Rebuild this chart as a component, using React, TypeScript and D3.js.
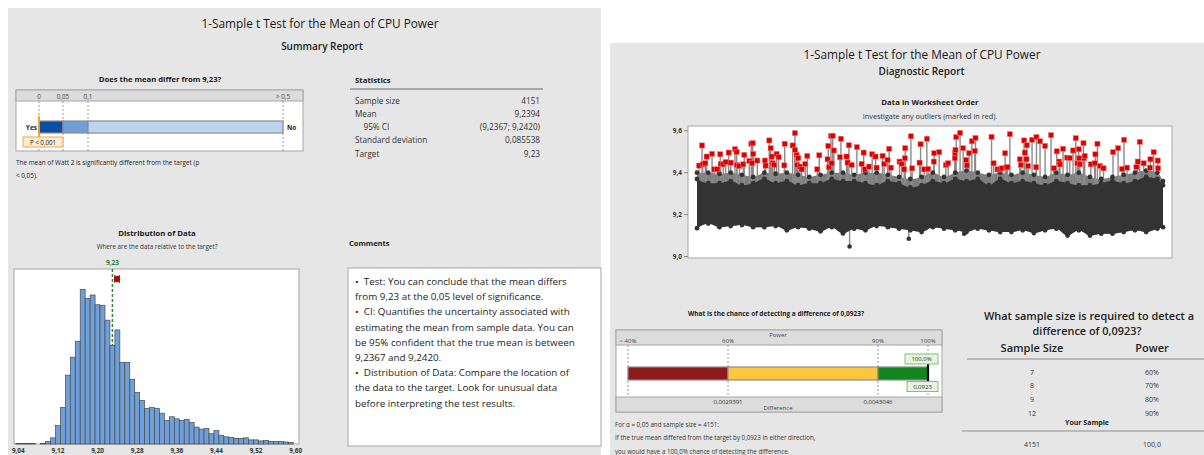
import { useEffect, useRef } from 'react';
import * as d3 from 'd3';

const FONT = "'Segoe UI', 'Open Sans', sans-serif";
const BG = '#e6e6e6';

// summary report
const reportTitle = '1-Sample t Test for the Mean of CPU Power';
const pTicks = [0, 0.05, 0.1, 0.5];
const pTickLabels = ['0', '0,05', '0,1', '> 0,5'];
const pBands = [[0, 0.05, '#0b4ea2'], [0.05, 0.1, '#6f9fd6'], [0.1, 0.5, '#bdd3ee']] as const;
const statLabels = ['Sample size', 'Mean', '95% CI', 'Standard deviation', 'Target'];
const statValues = ['4151', '9,2394', '(9,2367; 9,2420)', '0,085538', '9,23'];
const commentLines = [
  '•  Test: You can conclude that the mean differs',
  'from 9,23 at the 0,05 level of significance.',
  '•  CI: Quantifies the uncertainty associated with',
  'estimating the mean from sample data. You can',
  'be 95% confident that the true mean is between',
  '9,2367 and 9,2420.',
  '•  Distribution of Data: Compare the location of',
  'the data to the target. Look for unusual data',
  'before interpreting the test results.',
];

// histogram (bin midpoints, width 0.01)
const binMids = [
  9.04, 9.05, 9.06, 9.07, 9.08, 9.09, 9.10, 9.11, 9.12, 9.13, 9.14, 9.15, 9.16, 9.17,
  9.18, 9.19, 9.20, 9.21, 9.22, 9.23, 9.24, 9.25, 9.26, 9.27, 9.28, 9.29, 9.30, 9.31,
  9.32, 9.33, 9.34, 9.35, 9.36, 9.37, 9.38, 9.39, 9.40, 9.41, 9.42, 9.43, 9.44, 9.45,
  9.46, 9.47, 9.48, 9.49, 9.50, 9.51, 9.52, 9.53, 9.54, 9.55, 9.56, 9.57, 9.58, 9.59,
];
const binCounts = [
  1, 1, 1, 1, 0, 1, 5, 12, 36, 71, 134, 169, 200, 301,
  283, 290, 271, 270, 241, 192, 222, 159, 159, 126, 100, 85, 69, 71,
  69, 60, 46, 53, 49, 46, 48, 42, 33, 29, 30, 20, 26, 17,
  14, 13, 11, 11, 12, 8, 8, 6, 7, 5, 5, 5, 4, 3,
];
const histTicks = [9.04, 9.12, 9.2, 9.28, 9.36, 9.44, 9.52, 9.6];
const histTickLabels = ['9,04', '9,12', '9,20', '9,28', '9,36', '9,44', '9,52', '9,60'];
const target = 9.23;
const meanValue = 9.2394;
const ciLow = 9.2367;
const ciHigh = 9.242;

// worksheet order plot: envelope of the dense band, read every 100 observations
const bandObs = [
  1, 101, 201, 301, 401, 501, 601, 701, 801, 901, 1001, 1101, 1201, 1301, 1401,
  1501, 1601, 1701, 1801, 1901, 2001, 2101, 2201, 2301, 2401, 2501, 2601, 2701,
  2801, 2901, 3001, 3101, 3201, 3301, 3401, 3501, 3601, 3701, 3801, 3901, 4001, 4101, 4151,
];
const bandLow = [
  9.135, 9.157, 9.14, 9.145, 9.15, 9.14, 9.14, 9.145, 9.125, 9.14, 9.133, 9.12, 9.14, 9.11, 9.133,
  9.125, 9.145, 9.14, 9.133, 9.125, 9.117, 9.14, 9.133, 9.125, 9.117, 9.133, 9.125, 9.117,
  9.117, 9.125, 9.112, 9.125, 9.133, 9.1, 9.125, 9.1, 9.109, 9.109, 9.117, 9.125, 9.117, 9.133, 9.14,
];
const bandHigh = [
  9.4, 9.4, 9.395, 9.4, 9.39, 9.38, 9.4, 9.395, 9.4, 9.39, 9.38, 9.39, 9.4, 9.4, 9.39,
  9.4, 9.4, 9.39, 9.38, 9.37, 9.38, 9.4, 9.38, 9.4, 9.41, 9.4, 9.39, 9.4,
  9.39, 9.4, 9.39, 9.38, 9.4, 9.39, 9.4, 9.38, 9.37, 9.38, 9.39, 9.4, 9.41, 9.4, 9.36,
];
const bandCore = [
  9.37, 9.35, 9.35, 9.36, 9.34, 9.35, 9.37, 9.35, 9.36, 9.34, 9.35, 9.35, 9.37, 9.36, 9.36,
  9.35, 9.34, 9.36, 9.35, 9.33, 9.34, 9.36, 9.35, 9.37, 9.36, 9.37, 9.34, 9.37,
  9.35, 9.36, 9.35, 9.34, 9.36, 9.35, 9.34, 9.34, 9.35, 9.36, 9.35, 9.36, 9.38, 9.37, 9.34,
];
const lowPoints: [number, number][] = [[1360, 9.048], [1887, 9.085], [2380, 9.109]];
// outliers: [observation, value]
const outliers: [number, number][] = [
  [19, 9.434], [46, 9.53], [52, 9.44], [75, 9.445], [87, 9.477], [135, 9.49], [155, 9.416], [182, 9.416],
  [208, 9.488], [212, 9.442], [235, 9.44], [256, 9.451], [283, 9.496], [301, 9.448], [339, 9.512], [354, 9.499],
  [356, 9.437], [378, 9.432], [413, 9.44], [422, 9.485], [467, 9.456], [484, 9.538], [491, 9.445], [497, 9.541],
  [502, 9.49], [538, 9.458], [606, 9.458], [612, 9.434], [645, 9.554], [657, 9.517], [666, 9.477], [675, 9.445],
  [689, 9.437], [710, 9.49], [728, 9.474], [778, 9.435], [782, 9.538], [853, 9.53], [873, 9.589], [875, 9.509],
  [888, 9.485], [894, 9.437], [903, 9.469], [918, 9.429], [933, 9.416], [965, 9.442], [983, 9.48], [1072, 9.416],
  [1090, 9.483], [1164, 9.464], [1170, 9.528], [1176, 9.426], [1194, 9.576], [1200, 9.445], [1209, 9.576], [1220, 9.506],
  [1274, 9.474], [1283, 9.562], [1333, 9.477], [1342, 9.448], [1354, 9.531], [1378, 9.437], [1425, 9.522], [1467, 9.442],
  [1485, 9.496], [1496, 9.416], [1532, 9.429], [1561, 9.488], [1591, 9.477], [1600, 9.424], [1654, 9.48], [1668, 9.442],
  [1698, 9.461], [1712, 9.514], [1728, 9.424], [1805, 9.453], [1823, 9.442], [1846, 9.416], [1852, 9.469], [1855, 9.517],
  [1906, 9.574], [1917, 9.421], [1983, 9.448], [1992, 9.536], [2024, 9.416], [2048, 9.562], [2060, 9.418], [2110, 9.453],
  [2113, 9.493], [2158, 9.498], [2217, 9.437], [2238, 9.445], [2297, 9.469], [2299, 9.493], [2303, 9.509], [2309, 9.57],
  [2344, 9.59], [2371, 9.517], [2398, 9.461], [2404, 9.435], [2424, 9.493], [2449, 9.55], [2475, 9.504], [2481, 9.566],
  [2624, 9.571], [2642, 9.445], [2677, 9.416], [2698, 9.416], [2718, 9.421], [2745, 9.493], [2757, 9.426], [2766, 9.426],
  [2787, 9.584], [2876, 9.464], [2885, 9.437], [2914, 9.554], [2920, 9.496], [2935, 9.464], [2938, 9.531], [2950, 9.432],
  [2985, 9.557], [3021, 9.426], [3024, 9.57], [3056, 9.55], [3101, 9.528], [3154, 9.579], [3178, 9.421], [3205, 9.502],
  [3226, 9.453], [3234, 9.44], [3261, 9.514], [3297, 9.472], [3321, 9.47], [3350, 9.506], [3374, 9.565], [3389, 9.445],
  [3401, 9.512], [3403, 9.469], [3410, 9.44], [3443, 9.541], [3446, 9.469], [3454, 9.48], [3508, 9.44], [3543, 9.445],
  [3549, 9.488], [3567, 9.538], [3590, 9.432], [3621, 9.421], [3706, 9.498], [3751, 9.517], [3786, 9.418], [3804, 9.557],
  [3831, 9.424], [3914, 9.427], [3926, 9.453], [3944, 9.547], [3979, 9.445], [4035, 9.424], [4039, 9.464], [4068, 9.498],
  [4104, 9.458], [4107, 9.421],
];
const seriesTicks = [9.0, 9.2, 9.4, 9.6];
const seriesTickLabels = ['9,0', '9,2', '9,4', '9,6'];

// power
const powerTicks = [40, 60, 90, 100];
const powerTickLabels = ['< 40%', '60%', '90%', '100%'];
const powerBands = [[40, 60, '#8e1b1b'], [60, 90, '#fec63f'], [90, 100, '#13861f']] as const;
const powerValue = 100;
const diffAt = [60, 90];
const diffLabels = ['0,0029391', '0,0043046'];
const powerNotes = [
  'For α = 0,05 and sample size = 4151:',
  'If the true mean differed from the target by 0,0923 in either direction,',
  'you would have a 100,0% chance of detecting the difference.',
];
const sizeRows = ['7', '8', '9', '12'];
const powerRows = ['60%', '70%', '80%', '90%'];

const App = () => {
  const ref = useRef<SVGSVGElement>(null);

  useEffect(() => {
    const svg = d3.select(ref.current);
    svg.selectAll('*').remove();

    const text = (g: any, x: number, y: number, s: string, size: number, o: any = {}) =>
      g.append('text')
        .attr('x', x).attr('y', y)
        .attr('font-size', size)
        .attr('font-weight', o.weight || 400)
        .attr('text-anchor', o.anchor || 'start')
        .attr('dominant-baseline', 'central')
        .attr('fill', o.fill || '#222')
        .style('white-space', 'pre')
        .text(s);

    // panel backgrounds
    svg.append('rect').attr('x', 8).attr('y', 8).attr('width', 593).attr('height', 447).attr('fill', BG);
    svg.append('rect').attr('x', 610).attr('y', 43).attr('width', 594).attr('height', 412).attr('fill', BG);

    // ---------- Summary report ----------
    text(svg, 320, 23, reportTitle, 11.8, { anchor: 'middle', fill: '#1a1a1a' });
    text(svg, 322, 45.5, 'Summary Report', 10, { anchor: 'middle', weight: 600 });

    text(svg, 160, 79, 'Does the mean differ from 9,23?', 7.7, { anchor: 'middle', weight: 700 });
    const pScale = d3.scaleLinear().domain(pTicks).range([39, 63, 88, 283]);
    svg.append('rect').attr('x', 16).attr('y', 90).attr('width', 287).attr('height', 61)
      .attr('fill', '#fff').attr('stroke', '#a6a6a6');
    svg.append('rect').attr('x', 16).attr('y', 90).attr('width', 287).attr('height', 11)
      .attr('fill', '#dcdcdc').attr('stroke', '#a6a6a6');
    pTicks.forEach((t, i) => {
      text(svg, pScale(t), 96, pTickLabels[i], 6.3, { anchor: 'middle', fill: '#444' });
      svg.append('line').attr('x1', pScale(t)).attr('x2', pScale(t)).attr('y1', 101).attr('y2', 151)
        .attr('stroke', '#9a9a9a').attr('stroke-dasharray', '2,2');
    });
    pBands.forEach(([a, b, c]) => {
      svg.append('rect').attr('x', pScale(a)).attr('y', 121).attr('width', pScale(b) - pScale(a)).attr('height', 12)
        .attr('fill', c).attr('stroke', '#8c8c8c').attr('stroke-width', 1.2);
    });
    svg.append('line').attr('x1', pScale(0)).attr('x2', pScale(0)).attr('y1', 116).attr('y2', 143)
      .attr('stroke', '#f0a030').attr('stroke-width', 1.8);
    svg.append('rect').attr('x', 23).attr('y', 137).attr('width', 40).attr('height', 10)
      .attr('fill', '#fdebd2').attr('stroke', '#f0a848');
    text(svg, 43, 142, 'P < 0,001', 6.2, { anchor: 'middle' });
    text(svg, 37, 127, 'Yes', 6.5, { anchor: 'end', weight: 700 });
    text(svg, 287, 127, 'No', 6.5, { weight: 700 });
    text(svg, 16, 162, 'The mean of Watt 2 is significantly different from the target (p', 6.4);
    text(svg, 16, 175, '< 0,05).', 6.4);

    // statistics table
    text(svg, 355, 80, 'Statistics', 7.8, { weight: 700 });
    svg.append('line').attr('x1', 350).attr('x2', 543).attr('y1', 89).attr('y2', 89)
      .attr('stroke', '#a8a8a8').attr('stroke-width', 2);
    statLabels.forEach((s, i) => {
      const y = 100 + i * 13.3;
      text(svg, s === '95% CI' ? 363.5 : 355, y, s, 8.2, { fill: '#333' });
      text(svg, 540, y, statValues[i], 8.2, { anchor: 'end', fill: '#333' });
    });

    // comments
    text(svg, 349, 243, 'Comments', 7.5, { weight: 700 });
    svg.append('rect').attr('x', 348).attr('y', 268).attr('width', 253).attr('height', 178)
      .attr('fill', '#fff').attr('stroke', '#a6a6a6');
    commentLines.forEach((s, i) => text(svg, 355, 281.5 + i * 15.2, s, 9.8, { fill: '#222' }));

    // distribution of data
    text(svg, 157, 233, 'Distribution of Data', 7.8, { anchor: 'middle', weight: 700 });
    text(svg, 157, 246.5, 'Where are the data relative to the target?', 6.3, { anchor: 'middle', fill: '#333' });
    const xh = d3.scaleLinear().domain([9.04, 9.6]).range([18.3, 295.7]);
    const yh = d3.scaleLinear().domain([0, 340]).range([444, 269.3]);
    svg.append('rect').attr('x', 14).attr('y', 269).attr('width', 285).attr('height', 175)
      .attr('fill', '#fff').attr('stroke', '#a6a6a6');
    svg.append('line').attr('x1', xh(target)).attr('x2', xh(target)).attr('y1', 269).attr('y2', 444)
      .attr('stroke', '#2e8540').attr('stroke-width', 1.5).attr('stroke-dasharray', '3,2');
    svg.append('g').selectAll('rect')
      .data(binMids.map((m, i) => ({ m, c: binCounts[i] })).filter(d => d.c > 0))
      .enter().append('rect')
      .attr('x', d => xh(d.m - 0.005))
      .attr('width', d => xh(d.m + 0.005) - xh(d.m - 0.005))
      .attr('y', d => yh(d.c))
      .attr('height', d => yh(0) - yh(d.c))
      .attr('fill', '#6f9fd8')
      .attr('stroke', '#4a4a4a')
      .attr('stroke-width', 0.7);
    text(svg, xh(target), 262.7, '9,23', 6.5, { anchor: 'middle', weight: 700, fill: '#2e7d32' });
    const my = 279;
    svg.append('line').attr('x1', xh(ciLow) - 1).attr('x2', xh(ciHigh) + 1).attr('y1', my).attr('y2', my)
      .attr('stroke', '#9b1111').attr('stroke-width', 1);
    [ciLow - 0.002, ciHigh + 0.002].forEach(v => {
      svg.append('line').attr('x1', xh(v)).attr('x2', xh(v)).attr('y1', my - 4).attr('y2', my + 4)
        .attr('stroke', '#9b1111').attr('stroke-width', 1);
    });
    svg.append('circle').attr('cx', xh(meanValue)).attr('cy', my).attr('r', 3.2).attr('fill', '#9b1111');
    histTicks.forEach((t, i) => text(svg, xh(t), 450.5, histTickLabels[i], 6.4, { anchor: 'middle', weight: 700, fill: '#333' }));

    // ---------- Diagnostic report ----------
    text(svg, 922, 54, reportTitle, 11.8, { anchor: 'middle', fill: '#1a1a1a' });
    text(svg, 921.5, 71, 'Diagnostic Report', 10, { anchor: 'middle', weight: 600 });
    text(svg, 930, 102, 'Data in Worksheet Order', 7.8, { anchor: 'middle', weight: 700 });
    text(svg, 930, 116, 'Investigate any outliers (marked in red).', 7.3, { anchor: 'middle', fill: '#333' });

    const xs = d3.scaleLinear().domain([1, 4151]).range([697, 1163]);
    const ys = d3.scaleLinear().domain([9.0, 9.6]).range([256.5, 130.8]);
    svg.append('rect').attr('x', 688).attr('y', 126).attr('width', 484).attr('height', 132)
      .attr('fill', '#fff').attr('stroke', '#a6a6a6');
    seriesTicks.forEach((t, i) => {
      text(svg, 682, ys(t), seriesTickLabels[i], 6.4, { anchor: 'end', weight: 700, fill: '#333' });
      svg.append('line').attr('x1', 684).attr('x2', 688).attr('y1', ys(t)).attr('y2', ys(t)).attr('stroke', '#888');
    });

    const band = bandObs.map((o, i) => ({ o, lo: bandLow[i], hi: bandHigh[i], core: bandCore[i] }));
    const plot = svg.append('g');
    plot.append('path').datum(band)
      .attr('d', d3.area<any>().x(d => xs(d.o)).y0(d => ys(d.lo)).y1(d => ys(d.hi)).curve(d3.curveMonotoneX))
      .attr('fill', '#7d7d7d');
    plot.selectAll('.stem').data(outliers).enter().append('line')
      .attr('x1', d => xs(d[0])).attr('x2', d => xs(d[0]))
      .attr('y1', ys(9.33)).attr('y2', d => ys(d[1]))
      .attr('stroke', '#8a8a8a').attr('stroke-width', 1.4);
    plot.selectAll('.lowstem').data(lowPoints).enter().append('line')
      .attr('x1', d => xs(d[0])).attr('x2', d => xs(d[0]))
      .attr('y1', ys(9.15)).attr('y2', d => ys(d[1]))
      .attr('stroke', '#8a8a8a').attr('stroke-width', 1.4);
    plot.append('path').datum(band)
      .attr('d', d3.area<any>().x(d => xs(d.o)).y0(d => ys(d.lo)).y1(d => ys(d.core)).curve(d3.curveMonotoneX))
      .attr('fill', '#333');
    (['lo', 'core', 'hi'] as const).forEach(k => {
      plot.selectAll('.dot-' + k).data(band).enter().append('circle')
        .attr('cx', d => xs(d.o)).attr('cy', d => ys(d[k])).attr('r', 2.4).attr('fill', '#333');
    });
    plot.selectAll('.low').data(lowPoints).enter().append('circle')
      .attr('cx', d => xs(d[0])).attr('cy', d => ys(d[1])).attr('r', 2.3).attr('fill', '#333');
    plot.selectAll('.out').data(outliers).enter().append('rect')
      .attr('x', d => xs(d[0]) - 2.6).attr('y', d => ys(d[1]) - 2.6)
      .attr('width', 5.2).attr('height', 5.2)
      .attr('fill', '#dd0000').attr('stroke', '#f08a8a').attr('stroke-width', 0.5);

    // power bar
    text(svg, 776, 313.3, 'What is the chance of detecting a difference of 0,0923?', 6.5, { anchor: 'middle', weight: 700 });
    const pw = d3.scaleLinear().domain([40, 100]).range([628, 928]);
    svg.append('rect').attr('x', 616).attr('y', 330).attr('width', 326).attr('height', 82)
      .attr('fill', '#fff').attr('stroke', '#a6a6a6');
    svg.append('rect').attr('x', 616).attr('y', 330).attr('width', 326).attr('height', 15)
      .attr('fill', '#dcdcdc').attr('stroke', '#a6a6a6');
    svg.append('rect').attr('x', 616).attr('y', 397).attr('width', 326).attr('height', 15)
      .attr('fill', '#dcdcdc').attr('stroke', '#a6a6a6');
    text(svg, 778, 334.5, 'Power', 6, { anchor: 'middle', fill: '#444' });
    powerTicks.forEach((t, i) => {
      text(svg, pw(t), 341, powerTickLabels[i], 6, { anchor: 'middle', fill: '#444' });
      svg.append('line').attr('x1', pw(t)).attr('x2', pw(t)).attr('y1', 345).attr('y2', 397)
        .attr('stroke', '#9a9a9a').attr('stroke-dasharray', '2,2');
    });
    powerBands.forEach(([a, b, c]) => {
      svg.append('rect').attr('x', pw(a)).attr('y', 367).attr('width', pw(b) - pw(a)).attr('height', 13)
        .attr('fill', c).attr('stroke', '#8c8c8c').attr('stroke-width', 1.2);
    });
    svg.append('line').attr('x1', pw(powerValue)).attr('x2', pw(powerValue)).attr('y1', 363).attr('y2', 384)
      .attr('stroke', '#000').attr('stroke-width', 2.2);
    svg.append('rect').attr('x', 905).attr('y', 354).attr('width', 33).attr('height', 10)
      .attr('fill', '#e6f3df').attr('stroke', '#7cc47c');
    text(svg, 921.5, 359, '100,0%', 6, { anchor: 'middle', fill: '#333' });
    svg.append('rect').attr('x', 907).attr('y', 381.5).attr('width', 31).attr('height', 10)
      .attr('fill', '#e6f3df').attr('stroke', '#7cc47c');
    text(svg, 922.5, 386.5, '0,0923', 6, { anchor: 'middle', fill: '#333' });
    diffAt.forEach((p, i) => text(svg, pw(p), 402, diffLabels[i], 6, { anchor: 'middle', fill: '#333' }));
    text(svg, 778, 407.5, 'Difference', 6, { anchor: 'middle', fill: '#444' });
    powerNotes.forEach((s, i) => text(svg, 615, [424, 437, 451][i], s, 6.2, { fill: '#333' }));

    // sample size table
    text(svg, 1089, 315, 'What sample size is required to detect a', 10.9, { anchor: 'middle', weight: 600 });
    text(svg, 1087, 330, 'difference of 0,0923?', 10.9, { anchor: 'middle', weight: 600 });
    text(svg, 1032, 347, 'Sample Size', 11, { anchor: 'middle', weight: 600 });
    text(svg, 1152, 347, 'Power', 11, { anchor: 'middle', weight: 600 });
    svg.append('line').attr('x1', 967).attr('x2', 1204).attr('y1', 359).attr('y2', 359).attr('stroke', '#8c8c8c');
    sizeRows.forEach((s, i) => {
      const y = 372 + i * 13.7;
      text(svg, 1032, y, s, 7, { anchor: 'middle', fill: '#333' });
      text(svg, 1152, y, powerRows[i], 7, { anchor: 'middle', fill: '#333' });
    });
    text(svg, 1087, 422, 'Your Sample', 7, { anchor: 'middle', weight: 700 });
    svg.append('line').attr('x1', 962).attr('x2', 1204).attr('y1', 431).attr('y2', 431).attr('stroke', '#8c8c8c');
    text(svg, 1032, 444, '4151', 7, { anchor: 'middle', fill: '#333' });
    text(svg, 1152, 444, '100,0', 7, { anchor: 'middle', fill: '#333' });
  }, []);

  return (
    <svg
      ref={ref}
      width={1204}
      height={455}
      style={{ position: 'absolute', left: 0, top: 0, background: '#fff', fontFamily: FONT }}
    />
  );
};

export default App;
